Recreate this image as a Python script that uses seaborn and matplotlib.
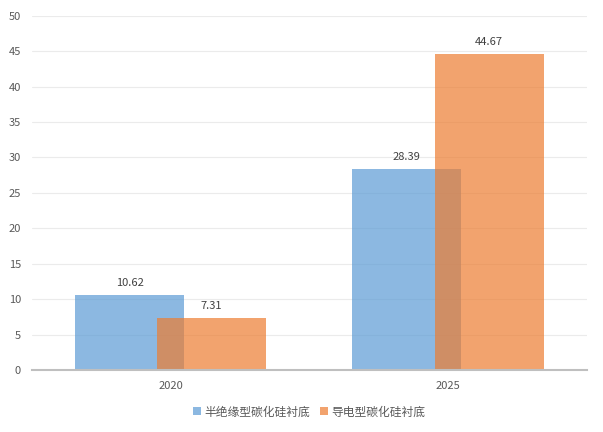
import matplotlib
matplotlib.use('Agg')
import matplotlib.pyplot as plt
import pandas as pd
import seaborn as sns

years = ['2020', '2025']
series = ['半绝缘型碳化硅衬底', '导电型碳化硅衬底']
semi_insulating = [10.62, 28.39]
conductive = [7.31, 44.67]
colors = ['#5B9BD5', '#ED7D31']

BAR_W = 0.393
OFFSET = 0.148

df = pd.DataFrame({
    'year': years * 2,
    'series': [series[0]] * 2 + [series[1]] * 2,
    'value': semi_insulating + conductive,
})

sns.set_style('white')
plt.rcParams['font.family'] = ['Noto Sans CJK SC', 'DejaVu Sans']

fig = plt.figure(figsize=(6.03, 4.32), dpi=100)
ax = fig.add_axes([0.053, 0.1435, 0.92, 0.82])

sns.barplot(data=df, x='year', y='value', hue='series', palette=colors,
            alpha=0.7, ax=ax, errorbar=None, saturation=1, linewidth=0)

# pull the two series together so the bars overlap like the original
for i, container in enumerate(ax.containers):
    shift = -OFFSET if i == 0 else OFFSET
    for j, rect in enumerate(container):
        rect.set_width(BAR_W)
        rect.set_x(j + shift - BAR_W / 2)
    ax.bar_label(container, fmt='%.2f', padding=5, fontsize=8, color='#404040')

ax.set_xlim(-0.5, 1.5)
ax.set_ylim(0, 50)
ax.set_yticks(range(0, 51, 5))
ax.yaxis.grid(True, color='#ebebeb', linewidth=0.8)
ax.set_axisbelow(True)
for s in ['top', 'right', 'left']:
    ax.spines[s].set_visible(False)
ax.spines['bottom'].set_color('#bfbfbf')
ax.spines['bottom'].set_linewidth(1.5)
ax.tick_params(axis='both', length=0, labelsize=8, labelcolor='#595959', pad=8)
ax.set_xlabel('')
ax.set_ylabel('')

ax.legend(loc='upper center', bbox_to_anchor=(0.5, -0.07), ncol=2, frameon=False,
          fontsize=8.5, handlelength=0.7, handleheight=0.7, handletextpad=0.3,
          columnspacing=0.8, labelcolor='#595959')

fig.savefig('out.png', dpi=100)
